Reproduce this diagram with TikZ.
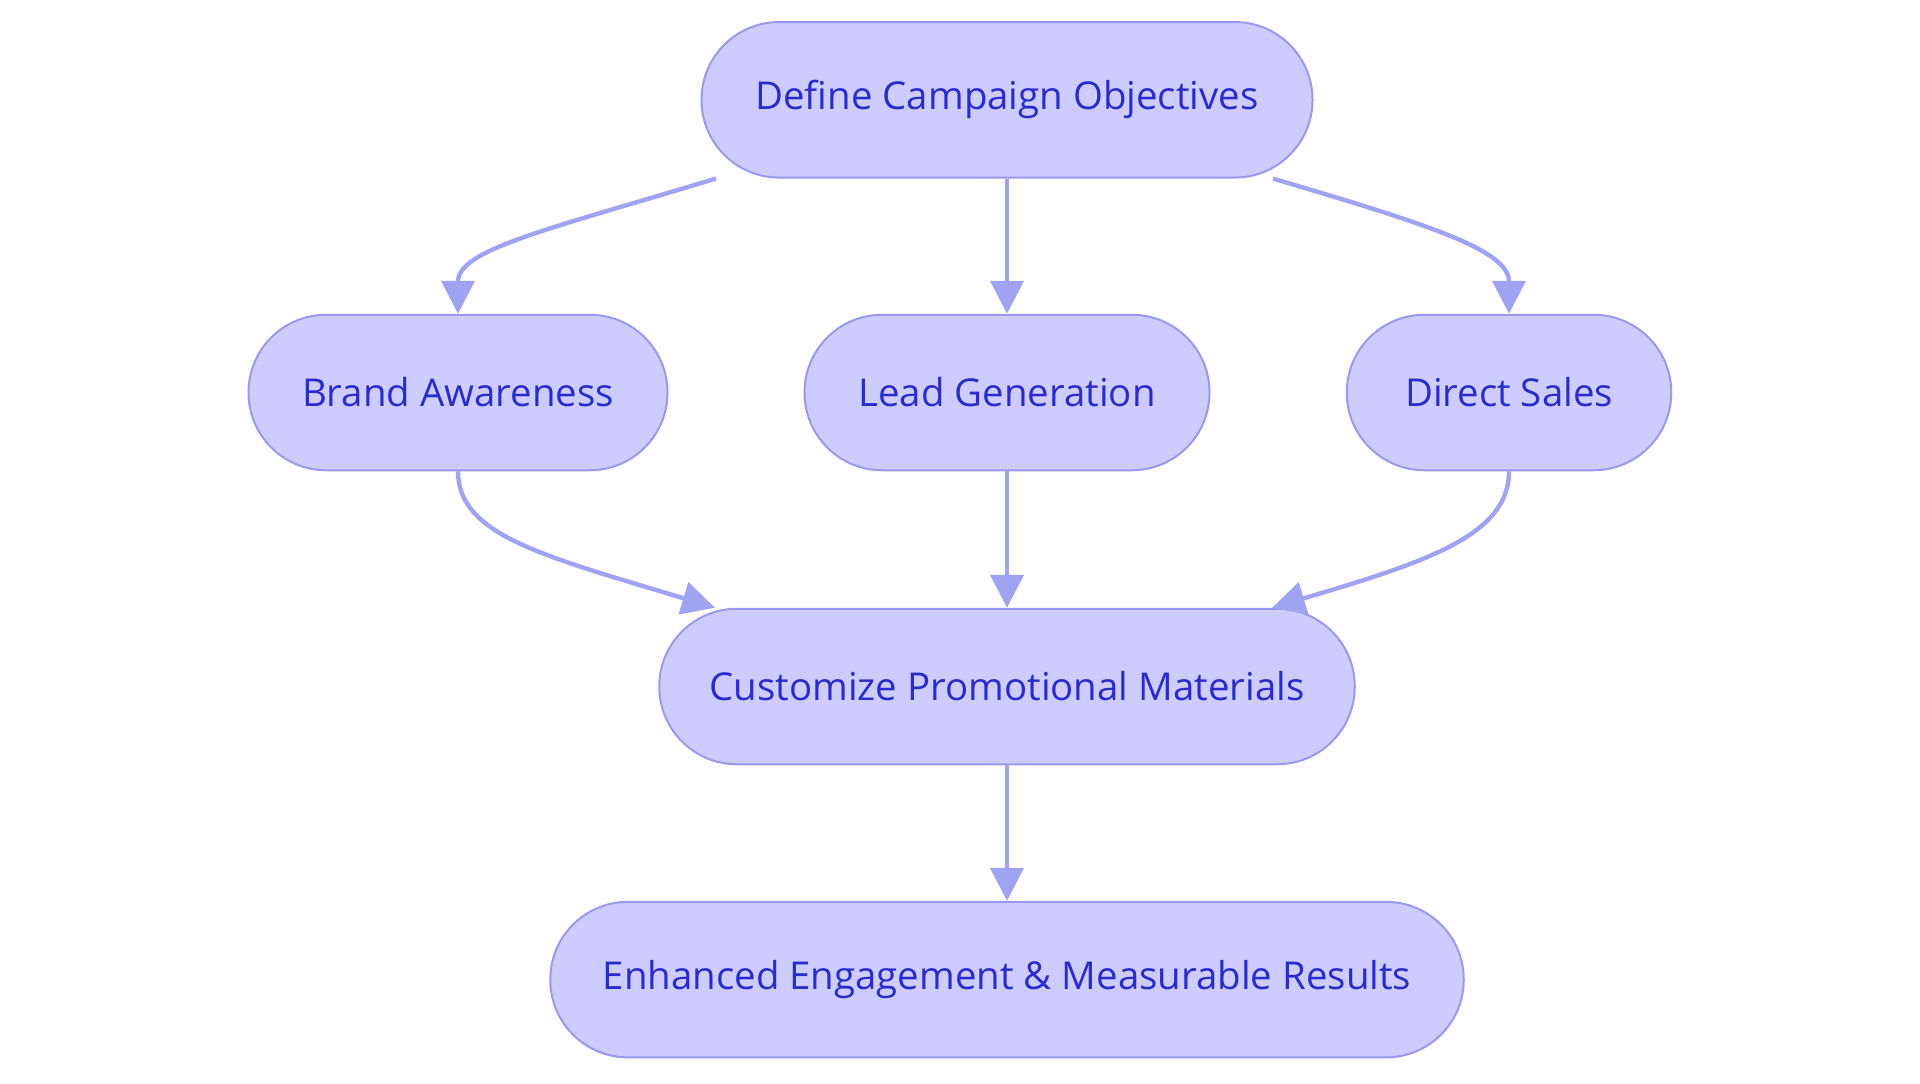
\documentclass[tikz,border=0pt]{standalone}
\usepackage{fontspec}
\setmainfont{Open Sans}
\usepackage{tikz}
\usetikzlibrary{arrows.meta,calc,positioning}
\definecolor{boxfill}{HTML}{CCCCFF}
\definecolor{boxline}{HTML}{9999EE}
\definecolor{boxtext}{HTML}{2B2BCC}
\definecolor{flow}{HTML}{A0A3F2}
\tikzset{
  stadium/.style={draw=boxline, fill=boxfill, line width=1pt, text=boxtext,
    rounded corners=38.8pt, minimum height=77.75pt, inner sep=0pt,
    font=\fontsize{19.2}{23}\selectfont},
  flowline/.style={draw=flow, line width=2.2pt, -{Triangle[width=16.5pt,length=16.5pt]}}
}
\begin{document}
\begin{tikzpicture}[x=0.5pt,y=-0.5pt]
\useasboundingbox (0,0) rectangle (1920,1083);
\node[stadium, minimum width=305.5pt] (goals) at (1007,99.8) {Define Campaign Objectives};
\node[stadium, minimum width=209.5pt] (brand) at (458,392.5) {Brand Awareness};
\node[stadium, minimum width=202.5pt] (lead) at (1007,392.5) {Lead Generation};
\node[stadium, minimum width=162.25pt] (sales) at (1509,392.5) {Direct Sales};
\node[stadium, minimum width=347.75pt] (custom) at (1007,686.5) {Customize Promotional Materials};
\node[stadium, minimum width=456.75pt] (result) at (1007,979.6) {Enhanced Engagement \& Measurable Results};
\draw[flowline] ($(goals.south)+(-291,0)$) .. controls +(-172,52) and +(0,-64) .. (brand.north);
\draw[flowline] (goals.south) -- (lead.north);
\draw[flowline] ($(goals.south)+(266,0)$) .. controls +(155,46) and +(0,-64) .. (sales.north);
\draw[flowline] (brand.south) .. controls +(0,64) and +(-172,-52) .. ($(custom.north)+(-292,0)$);
\draw[flowline] (lead.south) -- (custom.north);
\draw[flowline] (sales.south) .. controls +(0,64) and +(155,-46) .. ($(custom.north)+(265,0)$);
\draw[flowline] (custom.south) -- (result.north);
\end{tikzpicture}
\end{document}
